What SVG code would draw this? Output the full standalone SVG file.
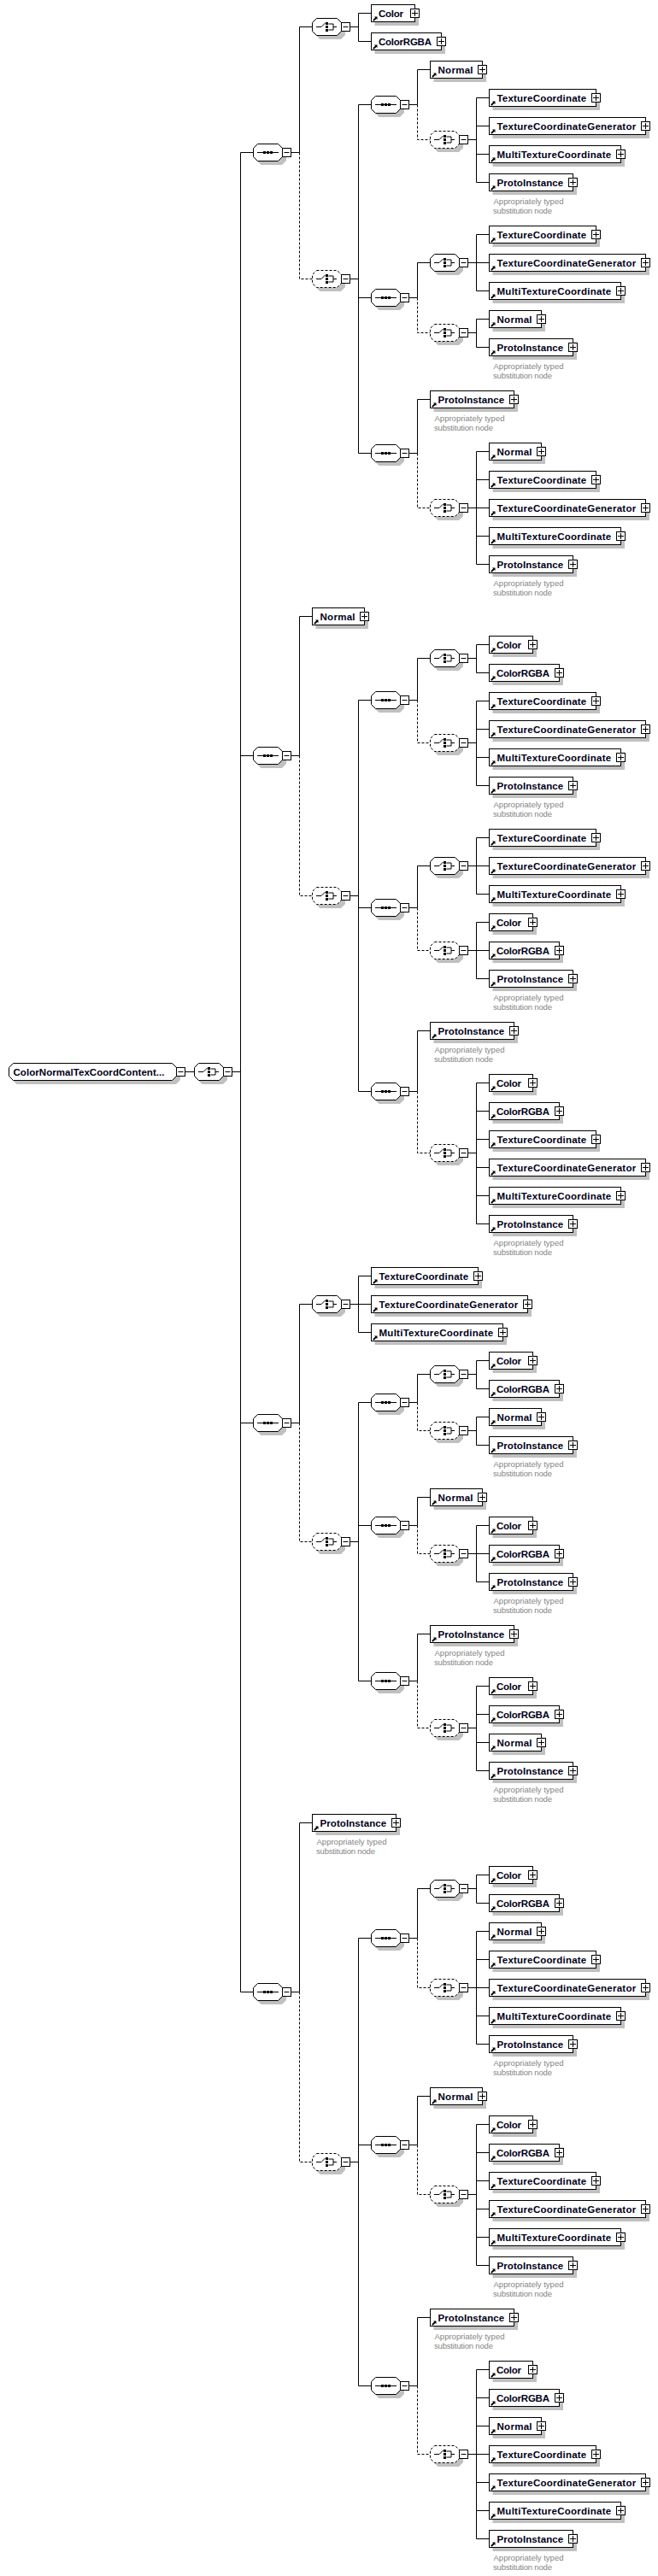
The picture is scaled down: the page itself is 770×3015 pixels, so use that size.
<svg xmlns="http://www.w3.org/2000/svg" width="770" height="3015" viewBox="0 0 770 3015">
<style>
text{font-family:"Liberation Sans",Arial,sans-serif}
.t{font-size:11.5px;font-weight:700;fill:#000018}
.c{font-size:9.5px;fill:#858585}
.ln{fill:none;stroke:#000;stroke-width:1}
.da{stroke-dasharray:3 2}
.sh{fill:#c0c0c0;stroke:none}
.bx{fill:#fff;stroke:#000;stroke-width:1}
.k{fill:#000;stroke:none}
</style>
<defs>
<path id="arw" class="k" d="M3.5 4H7V7.5L5.9 6.4 3 9.3 1.7 8 4.6 5.1Z"/>
<g id="mns"><rect class="bx" x="34" y="-5" width="10" height="10"/><path class="ln" d="M36 0H42"/></g>
<polygon id="octs" class="sh" points="9,-6 34,-6 38.5,-1.5 38.5,9.5 33.5,14.5 9,14.5 4,9.5 4,-1"/>
<g id="seqi"><path class="ln" d="M4.5 0H29.5"/><path class="k" d="M11.5-1.5h3v3h-3zM15.5-1.5h3v3h-3zM19.5-1.5h3v3h-3z"/></g>
<g id="chci"><path class="ln" d="M4.5 0H10.5L15-4.5M19-3.5H24.5V3.5H19M24.5 0H28.5"/><path class="k" d="M15.5-5.5h3v3h-3zM15.5-1.5h3v3h-3zM15.5 2.5h3v3h-3z"/></g>
<g id="seq"><use href="#octs"/><polygon class="bx" points="5,-10 29,-10 34,-5 34,5 29,10 5,10 0,5 0,-5"/><use href="#seqi"/><use href="#mns"/></g>
<g id="chc"><use href="#octs"/><polygon class="bx" points="5,-10 29,-10 34,-5 34,5 29,10 5,10 0,5 0,-5"/><use href="#chci"/><use href="#mns"/></g>
<g id="chd"><use href="#octs"/><polygon class="bx da" points="5,-10 29,-10 34,-5 34,5 29,10 5,10 0,5 0,-5"/><use href="#chci"/><use href="#mns"/></g>
<g id="eC"><rect class="sh" x="4" y="-6" width="51.5" height="20.5"/><rect class="bx" x="0" y="-10" width="51" height="20"/><use href="#arw"/><rect class="bx" x="46" y="-5" width="10" height="10"/><path class="ln" d="M47.5 0H54.5M51-3.5V3.5"/></g>
<g id="eR"><rect class="sh" x="4" y="-6" width="82.5" height="20.5"/><rect class="bx" x="0" y="-10" width="82" height="20"/><use href="#arw"/><rect class="bx" x="77" y="-5" width="10" height="10"/><path class="ln" d="M78.5 0H85.5M82-3.5V3.5"/></g>
<g id="eN"><rect class="sh" x="4" y="-6" width="61.5" height="20.5"/><rect class="bx" x="0" y="-10" width="61" height="20"/><use href="#arw"/><rect class="bx" x="56" y="-5" width="10" height="10"/><path class="ln" d="M57.5 0H64.5M61-3.5V3.5"/></g>
<g id="eT"><rect class="sh" x="4" y="-6" width="125.5" height="20.5"/><rect class="bx" x="0" y="-10" width="125" height="20"/><use href="#arw"/><rect class="bx" x="120" y="-5" width="10" height="10"/><path class="ln" d="M121.5 0H128.5M125-3.5V3.5"/></g>
<g id="eG"><rect class="sh" x="4" y="-6" width="183.5" height="20.5"/><rect class="bx" x="0" y="-10" width="183" height="20"/><use href="#arw"/><rect class="bx" x="178" y="-5" width="10" height="10"/><path class="ln" d="M179.5 0H186.5M183-3.5V3.5"/></g>
<g id="eM"><rect class="sh" x="4" y="-6" width="154.5" height="20.5"/><rect class="bx" x="0" y="-10" width="154" height="20"/><use href="#arw"/><rect class="bx" x="149" y="-5" width="10" height="10"/><path class="ln" d="M150.5 0H157.5M154-3.5V3.5"/></g>
<g id="eP"><rect class="sh" x="4" y="-6" width="98.5" height="20.5"/><rect class="bx" x="0" y="-10" width="98" height="20"/><use href="#arw"/><rect class="bx" x="93" y="-5" width="10" height="10"/><path class="ln" d="M94.5 0H101.5M98-3.5V3.5"/></g>
</defs>
<rect x="0" y="0" width="770" height="3015" fill="#fff"/>
<g id="connectors">
<path class="ln" d="M216.5 1254.5H227.5M271.5 1254.5H281.5M281.5 178.5V2331.5M281.5 178.5H296.5M281.5 884.5H296.5M281.5 1665.5H296.5M281.5 2331.5H296.5
M340.5 178.5H350.5V31.5H365.5M409.5 31.5H419.5M434.5 15.5H419.5V48.5H434.5
M409.5 326.5H419.5M434.5 122.5H419.5V530.5H434.5M419.5 348.5H434.5
M478.5 122.5H488.5V81.5H503.5M547.5 163.5H557.5M572.5 114.5H557.5V213.5H572.5M557.5 147.5H572.5M557.5 180.5H572.5
M478.5 348.5H488.5V307.5H503.5M547.5 307.5H557.5M572.5 274.5H557.5V340.5H572.5M557.5 307.5H572.5M547.5 389.5H557.5M572.5 373.5H557.5V406.5H572.5
M478.5 530.5H488.5V467.5H503.5M547.5 594.5H557.5M572.5 528.5H557.5V660.5H572.5M557.5 561.5H572.5M557.5 594.5H572.5M557.5 627.5H572.5
M340.5 884.5H350.5V721.5H365.5M409.5 1048.5H419.5M434.5 819.5H419.5V1277.5H434.5M419.5 1062.5H434.5
M478.5 819.5H488.5V770.5H503.5M547.5 770.5H557.5M572.5 754.5H557.5V787.5H572.5M547.5 869.5H557.5M572.5 820.5H557.5V919.5H572.5M557.5 853.5H572.5M557.5 886.5H572.5
M478.5 1062.5H488.5V1013.5H503.5M547.5 1013.5H557.5M572.5 980.5H557.5V1046.5H572.5M557.5 1013.5H572.5M547.5 1112.5H557.5M572.5 1079.5H557.5V1145.5H572.5M557.5 1112.5H572.5
M478.5 1277.5H488.5V1206.5H503.5M547.5 1349.5H557.5M572.5 1267.5H557.5V1432.5H572.5M557.5 1300.5H572.5M557.5 1333.5H572.5M557.5 1366.5H572.5M557.5 1399.5H572.5
M340.5 1665.5H350.5V1526.5H365.5M409.5 1526.5H419.5M434.5 1493.5H419.5V1559.5H434.5M419.5 1526.5H434.5
M409.5 1804.5H419.5M434.5 1641.5H419.5V1967.5H434.5M419.5 1785.5H434.5
M478.5 1641.5H488.5V1608.5H503.5M547.5 1608.5H557.5M572.5 1592.5H557.5V1625.5H572.5M547.5 1674.5H557.5M572.5 1658.5H557.5V1691.5H572.5
M478.5 1785.5H488.5V1752.5H503.5M547.5 1818.5H557.5M572.5 1785.5H557.5V1851.5H572.5M557.5 1818.5H572.5
M478.5 1967.5H488.5V1912.5H503.5M547.5 2022.5H557.5M572.5 1973.5H557.5V2072.5H572.5M557.5 2006.5H572.5M557.5 2039.5H572.5
M340.5 2331.5H350.5V2133.5H365.5M409.5 2530.5H419.5M434.5 2268.5H419.5V2792.5H434.5M419.5 2510.5H434.5
M478.5 2268.5H488.5V2210.5H503.5M547.5 2210.5H557.5M572.5 2194.5H557.5V2227.5H572.5M547.5 2326.5H557.5M572.5 2260.5H557.5V2392.5H572.5M557.5 2293.5H572.5M557.5 2326.5H572.5M557.5 2359.5H572.5
M478.5 2510.5H488.5V2453.5H503.5M547.5 2568.5H557.5M572.5 2486.5H557.5V2651.5H572.5M557.5 2519.5H572.5M557.5 2552.5H572.5M557.5 2585.5H572.5M557.5 2618.5H572.5
M478.5 2792.5H488.5V2712.5H503.5M547.5 2872.5H557.5M572.5 2773.5H557.5V2971.5H572.5M557.5 2806.5H572.5M557.5 2839.5H572.5M557.5 2872.5H572.5M557.5 2905.5H572.5M557.5 2938.5H572.5"/>
<path class="ln da" d="M350.5 178.5V326.5H365.5M488.5 122.5V163.5H503.5M488.5 348.5V389.5H503.5M488.5 530.5V594.5H503.5
M350.5 884.5V1048.5H365.5M488.5 819.5V869.5H503.5M488.5 1062.5V1112.5H503.5M488.5 1277.5V1349.5H503.5
M350.5 1665.5V1804.5H365.5M488.5 1641.5V1674.5H503.5M488.5 1785.5V1818.5H503.5M488.5 1967.5V2022.5H503.5
M350.5 2331.5V2530.5H365.5M488.5 2268.5V2326.5H503.5M488.5 2510.5V2568.5H503.5M488.5 2792.5V2872.5H503.5"/>
</g>
<g id="root" transform="translate(10.5,1254.5)">
<polygon class="sh" points="9,-6 196,-6 200.5,-1.5 200.5,9.5 195.5,14.5 9,14.5 4,9.5 4,-1"/>
<polygon class="bx" points="5,-10 191,-10 196,-5 196,5 191,10 5,10 0,5 0,-5"/>
<rect class="bx" x="196" y="-5" width="10" height="10"/><path class="ln" d="M198 0H204"/>
<text class="t" x="5" y="4.5" textLength="177">ColorNormalTexCoordContent...</text>
</g>
<g id="root-choice" transform="translate(227.5,1254.5)"><use href="#chc"/></g>

<g id="s1" transform="translate(296.5,178.5)"><use href="#seq"/></g>
<g id="c1" transform="translate(365.5,31.5)"><use href="#chc"/></g>
<g id="n1" transform="translate(434.5,15.5)"><use href="#eC"/><text class="t" x="8.5" y="4.5" textLength="29">Color</text></g>
<g id="n2" transform="translate(434.5,48.5)"><use href="#eR"/><text class="t" x="8.5" y="4.5" textLength="62">ColorRGBA</text></g>
<g id="d1" transform="translate(365.5,326.5)"><use href="#chd"/></g>
<g id="s11" transform="translate(434.5,122.5)"><use href="#seq"/></g>
<g id="n3" transform="translate(503.5,81.5)"><use href="#eN"/><text class="t" x="9" y="4.5" textLength="41">Normal</text></g>
<g id="d11" transform="translate(503.5,163.5)"><use href="#chd"/></g>
<g id="n4" transform="translate(572.5,114.5)"><use href="#eT"/><text class="t" x="9" y="4.5" textLength="104.7">TextureCoordinate</text></g>
<g id="n5" transform="translate(572.5,147.5)"><use href="#eG"/><text class="t" x="9" y="4.5" textLength="162.7">TextureCoordinateGenerator</text></g>
<g id="n6" transform="translate(572.5,180.5)"><use href="#eM"/><text class="t" x="9" y="4.5" textLength="133.7">MultiTextureCoordinate</text></g>
<g id="n7" transform="translate(572.5,213.5)"><use href="#eP"/><text class="t" x="9" y="4.5" textLength="77.7">ProtoInstance</text><text class="c" x="5" y="25.5" textLength="82">Appropriately typed</text><text class="c" x="4.5" y="36.5" textLength="69">substitution node</text></g>
<g id="s12" transform="translate(434.5,348.5)"><use href="#seq"/></g>
<g id="c12" transform="translate(503.5,307.5)"><use href="#chc"/></g>
<g id="n8" transform="translate(572.5,274.5)"><use href="#eT"/><text class="t" x="9" y="4.5" textLength="104.7">TextureCoordinate</text></g>
<g id="n9" transform="translate(572.5,307.5)"><use href="#eG"/><text class="t" x="9" y="4.5" textLength="162.7">TextureCoordinateGenerator</text></g>
<g id="n10" transform="translate(572.5,340.5)"><use href="#eM"/><text class="t" x="9" y="4.5" textLength="133.7">MultiTextureCoordinate</text></g>
<g id="d12" transform="translate(503.5,389.5)"><use href="#chd"/></g>
<g id="n11" transform="translate(572.5,373.5)"><use href="#eN"/><text class="t" x="9" y="4.5" textLength="41">Normal</text></g>
<g id="n12" transform="translate(572.5,406.5)"><use href="#eP"/><text class="t" x="9" y="4.5" textLength="77.7">ProtoInstance</text><text class="c" x="5" y="25.5" textLength="82">Appropriately typed</text><text class="c" x="4.5" y="36.5" textLength="69">substitution node</text></g>
<g id="s13" transform="translate(434.5,530.5)"><use href="#seq"/></g>
<g id="n13" transform="translate(503.5,467.5)"><use href="#eP"/><text class="t" x="9" y="4.5" textLength="77.7">ProtoInstance</text><text class="c" x="5" y="25.5" textLength="82">Appropriately typed</text><text class="c" x="4.5" y="36.5" textLength="69">substitution node</text></g>
<g id="d13" transform="translate(503.5,594.5)"><use href="#chd"/></g>
<g id="n14" transform="translate(572.5,528.5)"><use href="#eN"/><text class="t" x="9" y="4.5" textLength="41">Normal</text></g>
<g id="n15" transform="translate(572.5,561.5)"><use href="#eT"/><text class="t" x="9" y="4.5" textLength="104.7">TextureCoordinate</text></g>
<g id="n16" transform="translate(572.5,594.5)"><use href="#eG"/><text class="t" x="9" y="4.5" textLength="162.7">TextureCoordinateGenerator</text></g>
<g id="n17" transform="translate(572.5,627.5)"><use href="#eM"/><text class="t" x="9" y="4.5" textLength="133.7">MultiTextureCoordinate</text></g>
<g id="n18" transform="translate(572.5,660.5)"><use href="#eP"/><text class="t" x="9" y="4.5" textLength="77.7">ProtoInstance</text><text class="c" x="5" y="25.5" textLength="82">Appropriately typed</text><text class="c" x="4.5" y="36.5" textLength="69">substitution node</text></g>

<g id="s2" transform="translate(296.5,884.5)"><use href="#seq"/></g>
<g id="n19" transform="translate(365.5,721.5)"><use href="#eN"/><text class="t" x="9" y="4.5" textLength="41">Normal</text></g>
<g id="d2" transform="translate(365.5,1048.5)"><use href="#chd"/></g>
<g id="s21" transform="translate(434.5,819.5)"><use href="#seq"/></g>
<g id="c21" transform="translate(503.5,770.5)"><use href="#chc"/></g>
<g id="n20" transform="translate(572.5,754.5)"><use href="#eC"/><text class="t" x="8.5" y="4.5" textLength="29">Color</text></g>
<g id="n21" transform="translate(572.5,787.5)"><use href="#eR"/><text class="t" x="8.5" y="4.5" textLength="62">ColorRGBA</text></g>
<g id="d21" transform="translate(503.5,869.5)"><use href="#chd"/></g>
<g id="n22" transform="translate(572.5,820.5)"><use href="#eT"/><text class="t" x="9" y="4.5" textLength="104.7">TextureCoordinate</text></g>
<g id="n23" transform="translate(572.5,853.5)"><use href="#eG"/><text class="t" x="9" y="4.5" textLength="162.7">TextureCoordinateGenerator</text></g>
<g id="n24" transform="translate(572.5,886.5)"><use href="#eM"/><text class="t" x="9" y="4.5" textLength="133.7">MultiTextureCoordinate</text></g>
<g id="n25" transform="translate(572.5,919.5)"><use href="#eP"/><text class="t" x="9" y="4.5" textLength="77.7">ProtoInstance</text><text class="c" x="5" y="25.5" textLength="82">Appropriately typed</text><text class="c" x="4.5" y="36.5" textLength="69">substitution node</text></g>
<g id="s22" transform="translate(434.5,1062.5)"><use href="#seq"/></g>
<g id="c22" transform="translate(503.5,1013.5)"><use href="#chc"/></g>
<g id="n26" transform="translate(572.5,980.5)"><use href="#eT"/><text class="t" x="9" y="4.5" textLength="104.7">TextureCoordinate</text></g>
<g id="n27" transform="translate(572.5,1013.5)"><use href="#eG"/><text class="t" x="9" y="4.5" textLength="162.7">TextureCoordinateGenerator</text></g>
<g id="n28" transform="translate(572.5,1046.5)"><use href="#eM"/><text class="t" x="9" y="4.5" textLength="133.7">MultiTextureCoordinate</text></g>
<g id="d22" transform="translate(503.5,1112.5)"><use href="#chd"/></g>
<g id="n29" transform="translate(572.5,1079.5)"><use href="#eC"/><text class="t" x="8.5" y="4.5" textLength="29">Color</text></g>
<g id="n30" transform="translate(572.5,1112.5)"><use href="#eR"/><text class="t" x="8.5" y="4.5" textLength="62">ColorRGBA</text></g>
<g id="n31" transform="translate(572.5,1145.5)"><use href="#eP"/><text class="t" x="9" y="4.5" textLength="77.7">ProtoInstance</text><text class="c" x="5" y="25.5" textLength="82">Appropriately typed</text><text class="c" x="4.5" y="36.5" textLength="69">substitution node</text></g>
<g id="s23" transform="translate(434.5,1277.5)"><use href="#seq"/></g>
<g id="n32" transform="translate(503.5,1206.5)"><use href="#eP"/><text class="t" x="9" y="4.5" textLength="77.7">ProtoInstance</text><text class="c" x="5" y="25.5" textLength="82">Appropriately typed</text><text class="c" x="4.5" y="36.5" textLength="69">substitution node</text></g>
<g id="d23" transform="translate(503.5,1349.5)"><use href="#chd"/></g>
<g id="n33" transform="translate(572.5,1267.5)"><use href="#eC"/><text class="t" x="8.5" y="4.5" textLength="29">Color</text></g>
<g id="n34" transform="translate(572.5,1300.5)"><use href="#eR"/><text class="t" x="8.5" y="4.5" textLength="62">ColorRGBA</text></g>
<g id="n35" transform="translate(572.5,1333.5)"><use href="#eT"/><text class="t" x="9" y="4.5" textLength="104.7">TextureCoordinate</text></g>
<g id="n36" transform="translate(572.5,1366.5)"><use href="#eG"/><text class="t" x="9" y="4.5" textLength="162.7">TextureCoordinateGenerator</text></g>
<g id="n37" transform="translate(572.5,1399.5)"><use href="#eM"/><text class="t" x="9" y="4.5" textLength="133.7">MultiTextureCoordinate</text></g>
<g id="n38" transform="translate(572.5,1432.5)"><use href="#eP"/><text class="t" x="9" y="4.5" textLength="77.7">ProtoInstance</text><text class="c" x="5" y="25.5" textLength="82">Appropriately typed</text><text class="c" x="4.5" y="36.5" textLength="69">substitution node</text></g>

<g id="s3" transform="translate(296.5,1665.5)"><use href="#seq"/></g>
<g id="c3" transform="translate(365.5,1526.5)"><use href="#chc"/></g>
<g id="n39" transform="translate(434.5,1493.5)"><use href="#eT"/><text class="t" x="9" y="4.5" textLength="104.7">TextureCoordinate</text></g>
<g id="n40" transform="translate(434.5,1526.5)"><use href="#eG"/><text class="t" x="9" y="4.5" textLength="162.7">TextureCoordinateGenerator</text></g>
<g id="n41" transform="translate(434.5,1559.5)"><use href="#eM"/><text class="t" x="9" y="4.5" textLength="133.7">MultiTextureCoordinate</text></g>
<g id="d3" transform="translate(365.5,1804.5)"><use href="#chd"/></g>
<g id="s31" transform="translate(434.5,1641.5)"><use href="#seq"/></g>
<g id="c31" transform="translate(503.5,1608.5)"><use href="#chc"/></g>
<g id="n42" transform="translate(572.5,1592.5)"><use href="#eC"/><text class="t" x="8.5" y="4.5" textLength="29">Color</text></g>
<g id="n43" transform="translate(572.5,1625.5)"><use href="#eR"/><text class="t" x="8.5" y="4.5" textLength="62">ColorRGBA</text></g>
<g id="d31" transform="translate(503.5,1674.5)"><use href="#chd"/></g>
<g id="n44" transform="translate(572.5,1658.5)"><use href="#eN"/><text class="t" x="9" y="4.5" textLength="41">Normal</text></g>
<g id="n45" transform="translate(572.5,1691.5)"><use href="#eP"/><text class="t" x="9" y="4.5" textLength="77.7">ProtoInstance</text><text class="c" x="5" y="25.5" textLength="82">Appropriately typed</text><text class="c" x="4.5" y="36.5" textLength="69">substitution node</text></g>
<g id="s32" transform="translate(434.5,1785.5)"><use href="#seq"/></g>
<g id="n46" transform="translate(503.5,1752.5)"><use href="#eN"/><text class="t" x="9" y="4.5" textLength="41">Normal</text></g>
<g id="d32" transform="translate(503.5,1818.5)"><use href="#chd"/></g>
<g id="n47" transform="translate(572.5,1785.5)"><use href="#eC"/><text class="t" x="8.5" y="4.5" textLength="29">Color</text></g>
<g id="n48" transform="translate(572.5,1818.5)"><use href="#eR"/><text class="t" x="8.5" y="4.5" textLength="62">ColorRGBA</text></g>
<g id="n49" transform="translate(572.5,1851.5)"><use href="#eP"/><text class="t" x="9" y="4.5" textLength="77.7">ProtoInstance</text><text class="c" x="5" y="25.5" textLength="82">Appropriately typed</text><text class="c" x="4.5" y="36.5" textLength="69">substitution node</text></g>
<g id="s33" transform="translate(434.5,1967.5)"><use href="#seq"/></g>
<g id="n50" transform="translate(503.5,1912.5)"><use href="#eP"/><text class="t" x="9" y="4.5" textLength="77.7">ProtoInstance</text><text class="c" x="5" y="25.5" textLength="82">Appropriately typed</text><text class="c" x="4.5" y="36.5" textLength="69">substitution node</text></g>
<g id="d33" transform="translate(503.5,2022.5)"><use href="#chd"/></g>
<g id="n51" transform="translate(572.5,1973.5)"><use href="#eC"/><text class="t" x="8.5" y="4.5" textLength="29">Color</text></g>
<g id="n52" transform="translate(572.5,2006.5)"><use href="#eR"/><text class="t" x="8.5" y="4.5" textLength="62">ColorRGBA</text></g>
<g id="n53" transform="translate(572.5,2039.5)"><use href="#eN"/><text class="t" x="9" y="4.5" textLength="41">Normal</text></g>
<g id="n54" transform="translate(572.5,2072.5)"><use href="#eP"/><text class="t" x="9" y="4.5" textLength="77.7">ProtoInstance</text><text class="c" x="5" y="25.5" textLength="82">Appropriately typed</text><text class="c" x="4.5" y="36.5" textLength="69">substitution node</text></g>

<g id="s4" transform="translate(296.5,2331.5)"><use href="#seq"/></g>
<g id="n55" transform="translate(365.5,2133.5)"><use href="#eP"/><text class="t" x="9" y="4.5" textLength="77.7">ProtoInstance</text><text class="c" x="5" y="25.5" textLength="82">Appropriately typed</text><text class="c" x="4.5" y="36.5" textLength="69">substitution node</text></g>
<g id="d4" transform="translate(365.5,2530.5)"><use href="#chd"/></g>
<g id="s41" transform="translate(434.5,2268.5)"><use href="#seq"/></g>
<g id="c41" transform="translate(503.5,2210.5)"><use href="#chc"/></g>
<g id="n56" transform="translate(572.5,2194.5)"><use href="#eC"/><text class="t" x="8.5" y="4.5" textLength="29">Color</text></g>
<g id="n57" transform="translate(572.5,2227.5)"><use href="#eR"/><text class="t" x="8.5" y="4.5" textLength="62">ColorRGBA</text></g>
<g id="d41" transform="translate(503.5,2326.5)"><use href="#chd"/></g>
<g id="n58" transform="translate(572.5,2260.5)"><use href="#eN"/><text class="t" x="9" y="4.5" textLength="41">Normal</text></g>
<g id="n59" transform="translate(572.5,2293.5)"><use href="#eT"/><text class="t" x="9" y="4.5" textLength="104.7">TextureCoordinate</text></g>
<g id="n60" transform="translate(572.5,2326.5)"><use href="#eG"/><text class="t" x="9" y="4.5" textLength="162.7">TextureCoordinateGenerator</text></g>
<g id="n61" transform="translate(572.5,2359.5)"><use href="#eM"/><text class="t" x="9" y="4.5" textLength="133.7">MultiTextureCoordinate</text></g>
<g id="n62" transform="translate(572.5,2392.5)"><use href="#eP"/><text class="t" x="9" y="4.5" textLength="77.7">ProtoInstance</text><text class="c" x="5" y="25.5" textLength="82">Appropriately typed</text><text class="c" x="4.5" y="36.5" textLength="69">substitution node</text></g>
<g id="s42" transform="translate(434.5,2510.5)"><use href="#seq"/></g>
<g id="n63" transform="translate(503.5,2453.5)"><use href="#eN"/><text class="t" x="9" y="4.5" textLength="41">Normal</text></g>
<g id="d42" transform="translate(503.5,2568.5)"><use href="#chd"/></g>
<g id="n64" transform="translate(572.5,2486.5)"><use href="#eC"/><text class="t" x="8.5" y="4.5" textLength="29">Color</text></g>
<g id="n65" transform="translate(572.5,2519.5)"><use href="#eR"/><text class="t" x="8.5" y="4.5" textLength="62">ColorRGBA</text></g>
<g id="n66" transform="translate(572.5,2552.5)"><use href="#eT"/><text class="t" x="9" y="4.5" textLength="104.7">TextureCoordinate</text></g>
<g id="n67" transform="translate(572.5,2585.5)"><use href="#eG"/><text class="t" x="9" y="4.5" textLength="162.7">TextureCoordinateGenerator</text></g>
<g id="n68" transform="translate(572.5,2618.5)"><use href="#eM"/><text class="t" x="9" y="4.5" textLength="133.7">MultiTextureCoordinate</text></g>
<g id="n69" transform="translate(572.5,2651.5)"><use href="#eP"/><text class="t" x="9" y="4.5" textLength="77.7">ProtoInstance</text><text class="c" x="5" y="25.5" textLength="82">Appropriately typed</text><text class="c" x="4.5" y="36.5" textLength="69">substitution node</text></g>
<g id="s43" transform="translate(434.5,2792.5)"><use href="#seq"/></g>
<g id="n70" transform="translate(503.5,2712.5)"><use href="#eP"/><text class="t" x="9" y="4.5" textLength="77.7">ProtoInstance</text><text class="c" x="5" y="25.5" textLength="82">Appropriately typed</text><text class="c" x="4.5" y="36.5" textLength="69">substitution node</text></g>
<g id="d43" transform="translate(503.5,2872.5)"><use href="#chd"/></g>
<g id="n71" transform="translate(572.5,2773.5)"><use href="#eC"/><text class="t" x="8.5" y="4.5" textLength="29">Color</text></g>
<g id="n72" transform="translate(572.5,2806.5)"><use href="#eR"/><text class="t" x="8.5" y="4.5" textLength="62">ColorRGBA</text></g>
<g id="n73" transform="translate(572.5,2839.5)"><use href="#eN"/><text class="t" x="9" y="4.5" textLength="41">Normal</text></g>
<g id="n74" transform="translate(572.5,2872.5)"><use href="#eT"/><text class="t" x="9" y="4.5" textLength="104.7">TextureCoordinate</text></g>
<g id="n75" transform="translate(572.5,2905.5)"><use href="#eG"/><text class="t" x="9" y="4.5" textLength="162.7">TextureCoordinateGenerator</text></g>
<g id="n76" transform="translate(572.5,2938.5)"><use href="#eM"/><text class="t" x="9" y="4.5" textLength="133.7">MultiTextureCoordinate</text></g>
<g id="n77" transform="translate(572.5,2971.5)"><use href="#eP"/><text class="t" x="9" y="4.5" textLength="77.7">ProtoInstance</text><text class="c" x="5" y="25.5" textLength="82">Appropriately typed</text><text class="c" x="4.5" y="36.5" textLength="69">substitution node</text></g>
</svg>
